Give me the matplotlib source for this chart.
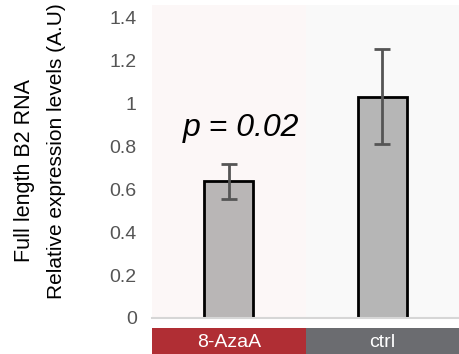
import matplotlib.pyplot as plt
import numpy as np

plt.rcParams['font.family'] = ['Liberation Sans', 'DejaVu Sans']

categories = ['8-AzaA', 'ctrl']
values = [0.635, 1.03]
errors = [0.083, 0.22]
p_text = 'p = 0.02'
yticks = [0, 0.2, 0.4, 0.6, 0.8, 1.0, 1.2, 1.4]
ytick_labels = ['0', '0.2', '0.4', '0.6', '0.8', '1', '1.2', '1.4']

cat_colors = ['#b02e34', '#6b6c70']
bg_colors = ['#fcf7f7', '#f9f9f9']
bar_colors = ['#b9b6b6', '#b6b6b6']

fig = plt.figure(figsize=(4.59, 3.54), dpi=100)
fig.patch.set_facecolor('white')

# main axes
ax = fig.add_axes([152/459, 1 - 318/354, 1 - 152/459, 313/354])
x = np.arange(len(categories))
for i in x:
    ax.axvspan(i - 0.5, i + 0.5, color=bg_colors[i], lw=0, zorder=0)
ax.bar(x, values, width=0.32, color=bar_colors, edgecolor='black', lw=2, zorder=2)
ax.errorbar(x, values, yerr=errors, fmt='none', ecolor='#555555', elinewidth=2,
            capsize=6, capthick=2, zorder=3)
ax.text(-0.30, 0.884, p_text, fontsize=23, style='italic', va='center', ha='left')

ax.set_xlim(-0.5, 1.5)
ax.set_ylim(0, 1.456)
ax.set_xticks([])
ax.set_yticks(yticks)
ax.set_yticklabels(ytick_labels)
ax.tick_params(axis='y', length=0, pad=11, labelsize=14, labelcolor='#555555')
for s in ['top', 'right', 'left']:
    ax.spines[s].set_visible(False)
ax.spines['bottom'].set_color('#d6d6d6')
ax.spines['bottom'].set_linewidth(1.5)

fig.text(25/459, 1 - 170/354, 'Full length B2 RNA', rotation=90,
         ha='center', va='center', fontsize=15.5)
fig.text(57/459, 1 - 151/354, 'Relative expression levels (A.U)', rotation=90,
         ha='center', va='center', fontsize=15)

# category strip
cax = fig.add_axes([152/459, 0, 1 - 152/459, 26/354])
cax.bar(x, [1, 1], width=1, color=cat_colors, lw=0)
for i, c in zip(x, categories):
    cax.text(i, 0.45, c, color='white', fontsize=14, ha='center', va='center')
cax.set_xlim(-0.5, 1.5)
cax.set_ylim(0, 1)
cax.axis('off')

plt.savefig('out.png', dpi=100)
